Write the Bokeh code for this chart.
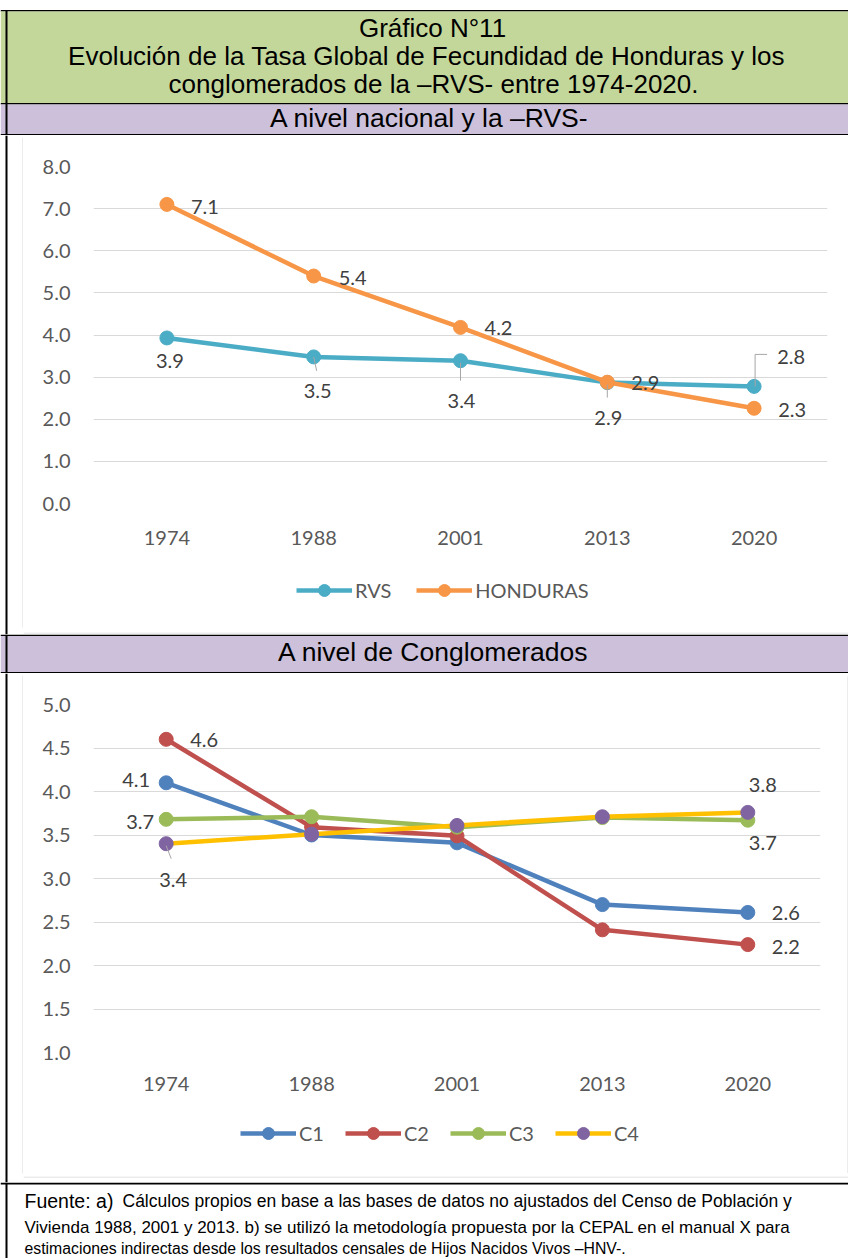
from bokeh.plotting import figure
from bokeh.models import (Range1d, FixedTicker, PrintfTickFormatter, Legend,
                          LegendItem)
from bokeh.layouts import column, row
from bokeh.embed import file_html
from bokeh.resources import INLINE
from bokeh.core.properties import value

# ---------------- data ----------------
years = ["1974", "1988", "2001", "2013", "2020"]

# Panel 1: national level and RVS
rvs = [3.93, 3.48, 3.39, 2.87, 2.78]
honduras = [7.10, 5.40, 4.18, 2.88, 2.26]
national_ticks = [0.0, 1.0, 2.0, 3.0, 4.0, 5.0, 6.0, 7.0, 8.0]

# Panel 2: clusters
c1 = [4.10, 3.50, 3.41, 2.70, 2.61]
c2 = [4.60, 3.59, 3.49, 2.41, 2.24]
c3 = [3.68, 3.71, 3.59, 3.70, 3.67]
c4 = [3.40, 3.51, 3.61, 3.71, 3.76]
cluster_ticks = [1.0, 1.5, 2.0, 2.5, 3.0, 3.5, 4.0, 4.5, 5.0]

title_lines = [
    "Gráfico N°11",
    "Evolución de la Tasa Global de Fecundidad de Honduras y los",
    "conglomerados de la –RVS- entre 1974-2020.",
]
band1_text = "A nivel nacional y la –RVS-"
band2_text = "A nivel de Conglomerados"
source_head = "Fuente: a)"
source_lines = [
    "Cálculos propios en base a las bases de datos no ajustados del Censo de Población y",
    "Vivienda 1988, 2001 y 2013. b) se utilizó la metodología propuesta por la CEPAL en el manual X para",
    "estimaciones indirectas desde los resultados censales de  Hijos Nacidos Vivos –HNV-.",
]

# ---------------- styles ----------------
W = 848
GREEN = "#C4D79B"
PURPLE = "#CCC0DA"
GRID = "#D9D9D9"
TICK_COL = "#595959"
LAB_COL = "#404040"
LEADER = "#A6A6A6"
CHART_FONT_NAME = "Lato"
CHART_FONT = value(CHART_FONT_NAME)
HEAD_FONT = value("Liberation Sans")
FS = "20px"
LW = 4.5
MS = 14


def no_align(p):
    try:
        p.frame_align = False
    except Exception:
        pass
    return p


def deco_fig(w, h, bg="white"):
    p = figure(width=w, height=h, x_range=Range1d(0, w), y_range=Range1d(h, 0),
               x_axis_type=None, y_axis_type=None, toolbar_location=None,
               output_backend="svg", min_border=0)
    p.grid.visible = False
    p.outline_line_color = None
    p.background_fill_color = bg
    p.border_fill_color = bg
    return no_align(p)


def band(p, x0, x1, y0, y1, color):
    p.quad(left=[x0], right=[x1], top=[y0], bottom=[y1], fill_color=color, line_color=None)


def chart_fig(w, h, left, right, top, bottom, y0, y1, ticks, xstand, ystand):
    p = figure(width=w, height=h, x_range=Range1d(-0.5, 4.5), y_range=Range1d(y0, y1),
               toolbar_location=None, output_backend="svg",
               min_border_left=left, min_border_right=right,
               min_border_top=top, min_border_bottom=bottom)
    p.outline_line_color = None
    p.xgrid.visible = False
    p.ygrid.grid_line_color = GRID
    p.ygrid.grid_line_width = 1
    p.yaxis.ticker = FixedTicker(ticks=ticks)
    p.yaxis.formatter = PrintfTickFormatter(format="%.1f")
    p.xaxis.ticker = FixedTicker(ticks=list(range(len(years))))
    p.xaxis.major_label_overrides = {i: y for i, y in enumerate(years)}
    for ax, st in ((p.xaxis, xstand), (p.yaxis, ystand)):
        ax.axis_line_color = None
        ax.major_tick_line_color = None
        ax.minor_tick_line_color = None
        ax.major_tick_out = 0
        ax.major_tick_in = 0
        ax.major_label_text_font = CHART_FONT_NAME
        ax.major_label_text_font_size = FS
        ax.major_label_text_color = TICK_COL
        ax.major_label_standoff = st
    return no_align(p)


def add_series(p, ys, line_color, marker_color):
    xs = list(range(len(ys)))
    p.line(xs, ys, line_color=line_color, line_width=LW)
    p.scatter(xs, ys, size=MS, marker="circle", fill_color=marker_color,
              line_color=marker_color)


def add_labels(p, ys, idx, offs):
    p.text(x=[i for i in idx], y=[ys[i] for i in idx],
           text=[f"{ys[i]:.1f}" for i in idx],
           x_offset=[o[0] for o in offs], y_offset=[o[1] for o in offs],
           text_font=CHART_FONT, text_font_size=FS, text_color=LAB_COL,
           text_align="center", text_baseline="middle")


def add_leaders(p, ys, segs, pxx, pxy):
    x0, y0, x1, y1 = [], [], [], []
    for i, (a, b, c, d) in segs:
        x0.append(i + a / pxx)
        y0.append(ys[i] - b / pxy)
        x1.append(i + c / pxx)
        y1.append(ys[i] - d / pxy)
    p.segment(x0=x0, y0=y0, x1=x1, y1=y1, line_color=LEADER, line_width=1)


def legend_fig(w, h, entries, loc, spacing):
    """Key strip under a chart: one line+marker sample per series."""
    p = deco_fig(w, h)
    items = []
    for label, lc, mc in entries:
        # sample glyphs kept outside the visible range; only the key shows them
        ln = p.line([-1000, -999], [-1000, -1000], line_color=lc, line_width=LW)
        sc = p.scatter([-1000], [-1000], size=MS, marker="circle",
                       fill_color=mc, line_color=mc)
        items.append(LegendItem(label=label, renderers=[ln, sc]))
    lg = Legend(items=items, location=loc, orientation="horizontal", spacing=spacing,
                padding=0, margin=0, glyph_width=56, glyph_height=30,
                label_height=30, label_standoff=3,
                label_text_font=CHART_FONT_NAME, label_text_font_size=FS,
                label_text_color=TICK_COL, border_line_color=None,
                background_fill_alpha=0)
    p.add_layout(lg, "center")
    return p


# ---------------- header (page y 0-135) ----------------
H0 = 135
head = deco_fig(W, H0)
band(head, 0, W, 9.5, 11, "black")
band(head, 0, W, 11, 102.5, GREEN)
band(head, 0, W, 102.5, 104, "black")
band(head, 0, W, 104, 133.5, PURPLE)
band(head, 0, W, 133.5, 135, "black")
band(head, 5, 7, 9.5, H0, "black")
head.text(x=[432, 426, 433], y=[27.5, 55.5, 83], text=title_lines,
          text_font=HEAD_FONT, text_font_size="26px", text_color="black",
          text_align="center", text_baseline="middle")
head.text(x=[429], y=[117.5], text=[band1_text], text_font=HEAD_FONT,
          text_font_size="26.5px", text_color="black", text_align="center",
          text_baseline="middle")

# ---------------- chart 1 cell (page y 135-634) ----------------
left1 = deco_fig(23, 499)
band(left1, 5, 7, 0, 499, "black")
band(left1, 22, 23, 2, 492, GRID)
top1 = deco_fig(825, 3)
band(top1, 0, 825, 2, 3, GRID)
bot1 = deco_fig(825, 7)
band(bot1, 0, 825, 0, 1, GRID)

p1 = chart_fig(825, 427, 70, 21, 28, 62, 0, 8, national_ticks, 27, 23)
pxx1, pxy1 = 734 / 5, 337 / 8
add_series(p1, rvs, "#4BACC6", "#4BACC6")
add_series(p1, honduras, "#F79646", "#F79646")
add_leaders(p1, rvs, [(1, (0, 0, 3, 14)), (2, (0, 2, 0, 20)), (3, (0, 2, 0, 15)),
                      (4, (1, 0, 1, -32)), (4, (1, -32, 13, -32))], pxx1, pxy1)
add_labels(p1, honduras, [0, 1, 2, 3, 4],
           [(38, 3), (39, 2), (38, 1), (38, 1), (38, 2)])
add_labels(p1, rvs, [0, 1, 2, 3, 4],
           [(3, 23), (4, 34), (1, 40), (1, 35), (37, -29)])
leg1 = legend_fig(825, 62, [("RVS", "#4BACC6", "#4BACC6"),
                            ("HONDURAS", "#F79646", "#F79646")], (273, 22), 25)

cell1 = row(left1, column(top1, p1, leg1, bot1, spacing=0), spacing=0)

# ---------------- band 2 (page y 634-673) ----------------
H2 = 39
b2 = deco_fig(W, H2)
band(b2, 0, W, 0, 1.5, "black")
band(b2, 0, W, 1.5, 37.5, PURPLE)
band(b2, 0, W, 37.5, 39, "black")
band(b2, 5, 7, 0, H2, "black")
b2.text(x=[433], y=[17], text=[band2_text], text_font=HEAD_FONT,
        text_font_size="26.5px", text_color="black", text_align="center",
        text_baseline="middle")

# ---------------- chart 2 cell (page y 673-1182) ----------------
left2 = deco_fig(23, 509)
band(left2, 5, 7, 0, 509, "black")
band(left2, 22, 23, 2, 500, GRID)
top2 = deco_fig(825, 3)
band(top2, 0, 825, 2, 3, GRID)
bot2 = deco_fig(825, 9)
band(bot2, 0, 825, 0, 1, GRID)
right2 = deco_fig(1, 497, bg=GRID)

p2 = chart_fig(824, 429, 70, 27, 28, 53, 1.0, 5.0, cluster_ticks, 24, 23)
pxx2, pxy2 = 727 / 5, 348 / 4
add_series(p2, c1, "#4F81BD", "#4F81BD")
add_series(p2, c2, "#C0504D", "#C0504D")
add_series(p2, c3, "#9BBB59", "#9BBB59")
add_series(p2, c4, "#FFC000", "#8064A2")
add_leaders(p2, c4, [(0, (0, 2, 5, 15))], pxx2, pxy2)
add_labels(p2, c1, [0, 4], [(-30, -3), (38, 1)])
add_labels(p2, c2, [0, 4], [(38, 1), (38, 2)])
add_labels(p2, c3, [0, 4], [(-26, 3), (15, 23)])
add_labels(p2, c4, [0, 4], [(7, 36), (15, -27)])
leg2 = legend_fig(824, 68, [("C1", "#4F81BD", "#4F81BD"), ("C2", "#C0504D", "#C0504D"),
                            ("C3", "#9BBB59", "#9BBB59"), ("C4", "#FFC000", "#8064A2")],
                  (217, 25), 21)

cell2 = row(left2, column(top2, row(column(p2, leg2, spacing=0), right2, spacing=0),
                          bot2, spacing=0), spacing=0)

# ---------------- source note (page y 1182-1258) ----------------
H4 = 76
src = deco_fig(W, H4)
band(src, 0, W, 0, 2, "black")
band(src, 5, 7, 0, H4, "black")
src.text(x=[24], y=[18], text=[source_head], text_font=HEAD_FONT,
         text_font_size="19.5px", text_color="black", text_align="left",
         text_baseline="middle")
src.text(x=[122], y=[18.5], text=[source_lines[0]], text_font=HEAD_FONT,
         text_font_size="17.5px", text_color="black", text_align="left",
         text_baseline="middle")
src.text(x=[24], y=[44.5], text=[source_lines[1]], text_font=HEAD_FONT,
         text_font_size="17px", text_color="black", text_align="left",
         text_baseline="middle")
src.text(x=[24], y=[66], text=[source_lines[2]], text_font=HEAD_FONT,
         text_font_size="15.8px", text_color="black", text_align="left",
         text_baseline="middle")

layout = column(head, cell1, b2, cell2, src, spacing=0)
open("out.html", "w").write(file_html(layout, INLINE))
